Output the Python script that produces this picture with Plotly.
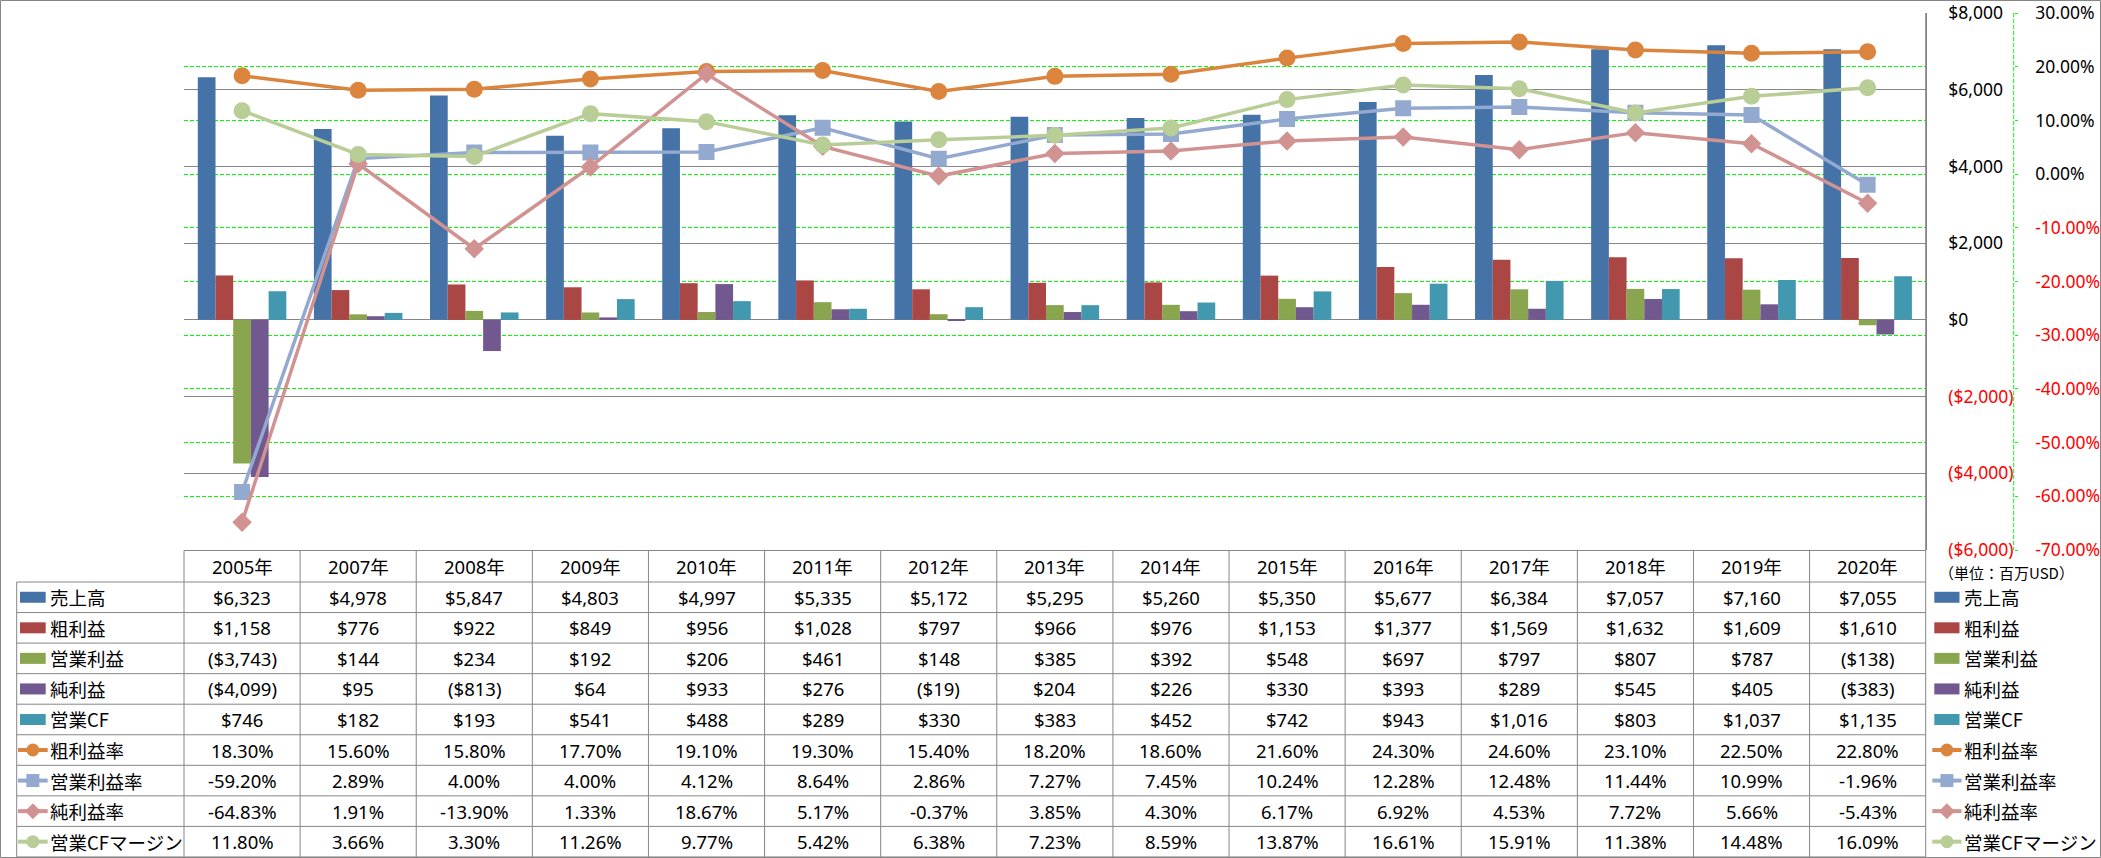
import plotly.graph_objects as go

# ---------------- data ----------------
years = ["2005年", "2007年", "2008年", "2009年", "2010年", "2011年", "2012年", "2013年",
         "2014年", "2015年", "2016年", "2017年", "2018年", "2019年", "2020年"]
sales = [6323, 4978, 5847, 4803, 4997, 5335, 5172, 5295, 5260, 5350, 5677, 6384, 7057, 7160, 7055]
gross_profit = [1158, 776, 922, 849, 956, 1028, 797, 966, 976, 1153, 1377, 1569, 1632, 1609, 1610]
operating_income = [-3743, 144, 234, 192, 206, 461, 148, 385, 392, 548, 697, 797, 807, 787, -138]
net_income = [-4099, 95, -813, 64, 933, 276, -19, 204, 226, 330, 393, 289, 545, 405, -383]
operating_cf = [746, 182, 193, 541, 488, 289, 330, 383, 452, 742, 943, 1016, 803, 1037, 1135]
gross_margin = [18.30, 15.60, 15.80, 17.70, 19.10, 19.30, 15.40, 18.20, 18.60, 21.60, 24.30, 24.60, 23.10, 22.50, 22.80]
operating_margin = [-59.20, 2.89, 4.00, 4.00, 4.12, 8.64, 2.86, 7.27, 7.45, 10.24, 12.28, 12.48, 11.44, 10.99, -1.96]
net_margin = [-64.83, 1.91, -13.90, 1.33, 18.67, 5.17, -0.37, 3.85, 4.30, 6.17, 6.92, 4.53, 7.72, 5.66, -5.43]
cf_margin = [11.80, 3.66, 3.30, 11.26, 9.77, 5.42, 6.38, 7.23, 8.59, 13.87, 16.61, 15.91, 11.38, 14.48, 16.09]

bar_names = ["売上高", "粗利益", "営業利益", "純利益", "営業CF"]
line_names = ["粗利益率", "営業利益率", "純利益率", "営業CFマージン"]
usd_ticks = [-6000, -4000, -2000, 0, 2000, 4000, 6000, 8000]
pct_ticks = [-70, -60, -50, -40, -30, -20, -10, 0, 10, 20, 30]
unit_label = "（単位：百万USD）"

# ---------------- styles ----------------
W, H = 2101, 858
L_PX, R_PX, T_PX, B_PX = 184, 1925.7, 13, 550
PW = W - L_PX
PH = B_PX - T_PX
GRAY = "#868686"
GREEN = "#00FF00"
RED = "#FF0000"
bar_colors = ["#4572A7", "#AA4643", "#89A54E", "#71588F", "#4198AF"]
line_colors = ["#DB843D", "#93A9CF", "#D19392", "#B9CD96"]
line_symbols = ["circle", "square", "diamond", "circle"]
line_sizes = [17, 16, 15, 17]
NUM_FONT = "Noto Sans, Noto Sans CJK JP"
CJK_FONT = "Noto Sans CJK JP"
NUM_SIZE = 18.5
AXIS_SIZE = 17.5


def px(x):
    return (x - L_PX) / PW


def py(y):
    return (B_PX - y) / PH


def fmt_usd(v):
    return f"${v:,}" if v >= 0 else f"(${-v:,})"


def fmt_pct(v):
    return f"{v:.2f}%"


bar_series = [sales, gross_profit, operating_income, net_income, operating_cf]
line_series = [gross_margin, operating_margin, net_margin, cf_margin]

fig = go.Figure()
for name, vals, col in zip(bar_names, bar_series, bar_colors):
    fig.add_trace(go.Bar(x=years, y=vals, name=name, marker=dict(color=col, line=dict(width=0)),
                         yaxis="y", showlegend=False))
for name, vals, col, sym, sz in zip(line_names, line_series, line_colors, line_symbols, line_sizes):
    fig.add_trace(go.Scatter(x=years, y=vals, name=name, yaxis="y2", mode="lines+markers",
                             line=dict(color=col, width=3.5),
                             marker=dict(symbol=sym, size=sz, color=col, line=dict(width=0)),
                             showlegend=False))

d = px(R_PX)

usd_text = []
for v in usd_ticks:
    t = fmt_usd(v)
    usd_text.append(f"<span style='color:{RED}'>{t}</span>" if v < 0 else t)
pct_text = []
for v in pct_ticks:
    t = f"{v:.2f}%"
    pct_text.append(f"<span style='color:{RED}'>{t}</span>" if v < 0 else t)

shapes = []
annotations = []

# dashed right axis line
shapes.append(dict(type="line", xref="paper", yref="paper", x0=px(2013.7), x1=px(2013.7),
                   y0=py(T_PX), y1=py(B_PX), line=dict(color=GREEN, width=1, dash="4px,2px")))

# ---------------- table ----------------
HEADER_TOP, HEADER_BOT = 550.5, 582.0
ROW_H = 30.55
TABLE_LEFT = 16.7
n_rows = 9
table_bottom = HEADER_BOT + n_rows * ROW_H

line_style = dict(color=GRAY, width=1)
shapes.append(dict(type="line", xref="paper", yref="paper", x0=0, x1=d,
                   y0=py(HEADER_TOP), y1=py(HEADER_TOP), line=line_style))
for k in range(n_rows + 1):
    yy = HEADER_BOT + k * ROW_H
    shapes.append(dict(type="line", xref="paper", yref="paper", x0=px(TABLE_LEFT), x1=d,
                       y0=py(yy), y1=py(yy), line=line_style))
for i in range(1, len(years)):
    shapes.append(dict(type="line", xref="x", yref="paper", x0=i - 0.5, x1=i - 0.5,
                       y0=py(HEADER_TOP), y1=py(table_bottom), line=line_style))
shapes.append(dict(type="line", xref="paper", yref="paper", x0=0, x1=0,
                   y0=py(HEADER_TOP), y1=py(table_bottom), line=line_style))
shapes.append(dict(type="line", xref="paper", yref="paper", x0=d, x1=d,
                   y0=py(T_PX), y1=py(table_bottom), line=line_style))
shapes.append(dict(type="line", xref="paper", yref="paper", x0=px(TABLE_LEFT), x1=px(TABLE_LEFT),
                   y0=py(HEADER_BOT), y1=py(table_bottom), line=line_style))

for yr in years:
    annotations.append(dict(x=yr, xref="x", y=py((HEADER_TOP + HEADER_BOT) / 2), yref="paper",
                            text=yr, showarrow=False, xanchor="center", yanchor="middle",
                            font=dict(family=NUM_FONT, size=NUM_SIZE, color="black")))

row_values = [[fmt_usd(v) for v in s] for s in bar_series] + [[fmt_pct(v) for v in s] for s in line_series]
row_names = bar_names + line_names
for k, vals in enumerate(row_values):
    cy = HEADER_BOT + (k + 0.5) * ROW_H
    for yr, txt in zip(years, vals):
        annotations.append(dict(x=yr, xref="x", y=py(cy), yref="paper", text=txt, showarrow=False,
                                xanchor="center", yanchor="middle",
                                font=dict(family=NUM_FONT, size=NUM_SIZE, color="black")))


def add_key(k, key_left, key_right, text_x, size_text):
    cy = HEADER_BOT + (k + 0.5) * ROW_H
    if k < 5:
        col = bar_colors[k]
        shapes.append(dict(type="rect", xref="paper", yref="paper", x0=px(key_left), x1=px(key_right),
                           y0=py(cy + 5.5), y1=py(cy - 5.5), fillcolor=col, line=dict(width=0)))
    else:
        j = k - 5
        col = line_colors[j]
        sym = line_symbols[j]
        cx = (key_left + key_right) / 2
        shapes.append(dict(type="line", xref="paper", yref="paper", x0=px(key_left - 2), x1=px(key_right + 2),
                           y0=py(cy), y1=py(cy), line=dict(color=col, width=4)))
        if sym == "circle":
            r = 6.5
            shapes.append(dict(type="circle", xref="paper", yref="paper", x0=px(cx - r), x1=px(cx + r),
                               y0=py(cy + r), y1=py(cy - r), fillcolor=col, line=dict(width=0)))
        elif sym == "square":
            r = 6.5
            shapes.append(dict(type="rect", xref="paper", yref="paper", x0=px(cx - r), x1=px(cx + r),
                               y0=py(cy + r), y1=py(cy - r), fillcolor=col, line=dict(width=0)))
        else:
            r = 8
            path = (f"M {px(cx)},{py(cy - r)} L {px(cx + r)},{py(cy)} L {px(cx)},{py(cy + r)} "
                    f"L {px(cx - r)},{py(cy)} Z")
            shapes.append(dict(type="path", xref="paper", yref="paper", path=path, fillcolor=col,
                               line=dict(width=0)))
    annotations.append(dict(x=px(text_x), xref="paper", y=py(cy), yref="paper", text=row_names[k],
                            showarrow=False, xanchor="left", yanchor="middle",
                            font=dict(family=CJK_FONT, size=size_text, color="black")))


for k in range(n_rows):
    add_key(k, 20, 45.7, 48, 18.5)
    add_key(k, 1934.3, 1959.5, 1961.5, 18.5)

annotations.append(dict(x=px(1937), xref="paper", y=py(572.5), yref="paper", text=unit_label,
                        showarrow=False, xanchor="left", yanchor="middle",
                        font=dict(family=CJK_FONT, size=15, color="black")))

shapes.append(dict(type="rect", xref="paper", yref="paper", x0=px(0.5), x1=px(W - 0.5),
                   y0=py(0.5), y1=py(H - 0.5), line=dict(color=GRAY, width=1), fillcolor="rgba(0,0,0,0)"))

fig.update_layout(
    width=W, height=H,
    margin=dict(l=L_PX, r=0, t=T_PX, b=H - B_PX, pad=0),
    paper_bgcolor="white", plot_bgcolor="white",
    barmode="group", bargap=0.2375, bargroupgap=0,
    hovermode=False,
    font=dict(family=NUM_FONT, size=AXIS_SIZE, color="black"),
    xaxis=dict(type="category", domain=[0, d], range=[-0.5, len(years) - 0.5],
               showticklabels=False, showgrid=False, zeroline=False, showline=False, ticks="",
               automargin=False),
    yaxis=dict(range=[-6000, 8000], tickvals=usd_ticks, ticktext=usd_text, side="right", anchor="x",
               showline=True, linecolor=GRAY, linewidth=1, showgrid=True, gridcolor=GRAY, gridwidth=1,
               zeroline=False, ticks="", ticklabelstandoff=18, automargin=False,
               ticklabeloverflow="allow",
               tickfont=dict(family=NUM_FONT, size=AXIS_SIZE, color="black")),
    yaxis2=dict(range=[-70, 30], tickvals=pct_ticks, ticktext=pct_text, overlaying="y", side="right",
                anchor="free", position=px(2013.7), showline=False, showgrid=True, gridcolor=GREEN,
                gridwidth=1, griddash="4px,2px", zeroline=False, ticks="outside", ticklen=3,
                tickcolor=GREEN, tickwidth=1, ticklabelstandoff=14, automargin=False,
                ticklabeloverflow="allow",
                tickfont=dict(family=NUM_FONT, size=AXIS_SIZE, color="black")),
    shapes=shapes,
    annotations=annotations,
)

fig.write_html("out.html", config={"displayModeBar": False},
               post_script="document.body.style.margin='0';")
